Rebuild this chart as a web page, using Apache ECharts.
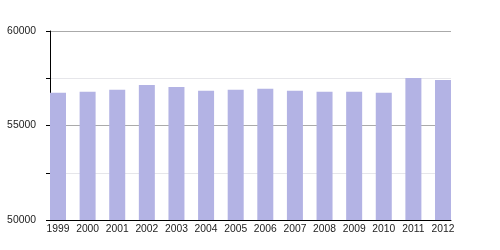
<!DOCTYPE html>
<html><head><meta charset="utf-8">
<script src="https://cdn.jsdelivr.net/npm/echarts@6/dist/echarts.min.js"></script>
<style>html,body{margin:0;padding:0;background:#fff}#c{width:500px;height:250px}</style>
</head><body><div id="c"></div>
<script>
var years = ['1999','2000','2001','2002','2003','2004','2005','2006','2007','2008','2009','2010','2011','2012'];
var values = [56735, 56790, 56894, 57143, 57037, 56843, 56894, 56947, 56843, 56790, 56790, 56735, 57513, 57407];
var yTicks = [50000, 55000, 60000];

var chart = echarts.init(document.getElementById('c'), null, {renderer: 'canvas'});
var idx = years.map(function(_, i){ return i; });
chart.setOption({
  animation: false,
  grid: {left: 50, right: 49, top: 31, bottom: 30, containLabel: false},
  xAxis: {
    type: 'value', min: -0.27, max: 13.27,
    splitLine: {show: false},
    axisLine: {show: true, onZero: false, lineStyle: {color: '#000', width: 1}},
    axisTick: {show: false},
    axisLabel: {
      customValues: idx, margin: 4,
      color: '#222', fontSize: 10.3, fontFamily: 'Liberation Sans',
      formatter: function(v){ return years[Math.round(v)]; }
    }
  },
  yAxis: {
    type: 'value', min: 50000, max: 60000, interval: 2500,
    axisLine: {show: true, onZero: false, lineStyle: {color: '#000', width: 1}},
    axisTick: {show: true, length: 4, lineStyle: {color: '#000'}},
    splitLine: {show: true, lineStyle: {color: ['#aaaaaa', '#e6e6ea', '#aaaaaa', '#e6e6ea', '#aaaaaa'], width: 1}},
    axisLabel: {
      margin: 14, color: '#222', fontSize: 10.4, fontFamily: 'Liberation Sans',
      formatter: function(v){ return yTicks.indexOf(v) >= 0 ? String(v) : ''; }
    }
  },
  series: [{
    type: 'bar', barWidth: 16,
    itemStyle: {color: '#b3b3e4'},
    data: values.map(function(v, i){ return [i, v]; })
  }]
});
</script></body></html>
